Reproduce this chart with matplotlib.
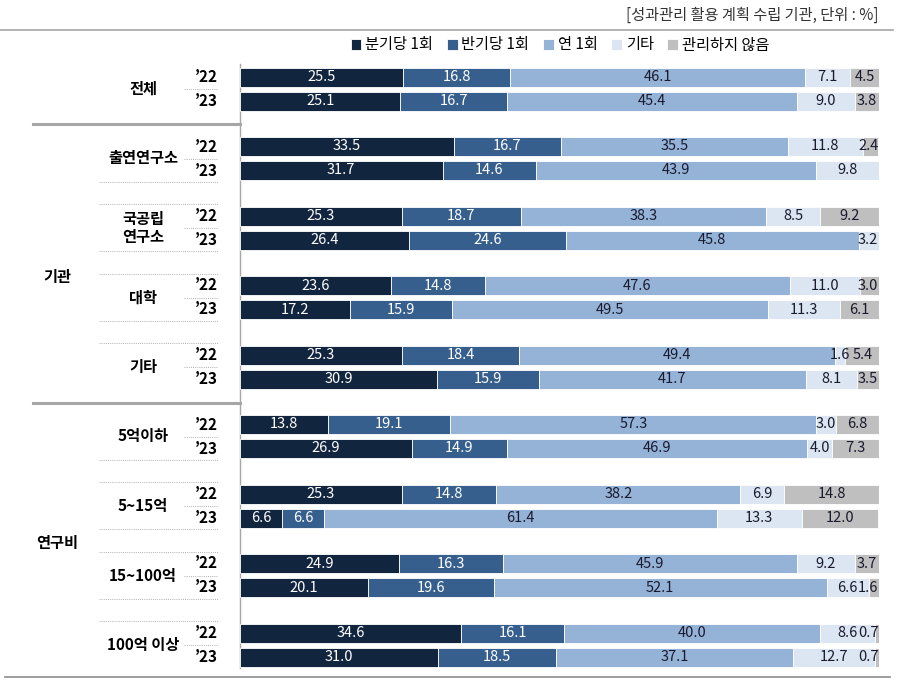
import matplotlib.pyplot as plt
import numpy as np

plt.rcParams['font.family'] = ['Noto Sans CJK KR', 'DejaVu Sans']

# data
rows = ["전체", "출연연구소", "국공립\n연구소", "대학", "기타", "5억이하", "5~15억", "15~100억", "100억 이상"]
series = ["분기당 1회", "반기당 1회", "연 1회", "기타", "관리하지 않음"]
colors = ["#12253f", "#375f8e", "#95b3d7", "#dce6f2", "#bfbfbf"]
text_colors = ["white", "white", "#1a1a2e", "#1a1a2e", "#1a1a2e"]

v22 = [
    [25.5, 33.5, 25.3, 23.6, 25.3, 13.8, 25.3, 24.9, 34.6],
    [16.8, 16.7, 18.7, 14.8, 18.4, 19.1, 14.8, 16.3, 16.1],
    [46.1, 35.5, 38.3, 47.6, 49.4, 57.3, 38.2, 45.9, 40.0],
    [7.1, 11.8, 8.5, 11.0, 1.6, 3.0, 6.9, 9.2, 8.6],
    [4.5, 2.4, 9.2, 3.0, 5.4, 6.8, 14.8, 3.7, 0.7],
]
v23 = [
    [25.1, 31.7, 26.4, 17.2, 30.9, 26.9, 6.6, 20.1, 31.0],
    [16.7, 14.6, 24.6, 15.9, 15.9, 14.9, 6.6, 19.6, 18.5],
    [45.4, 43.9, 45.8, 49.5, 41.7, 46.9, 61.4, 52.1, 37.1],
    [9.0, 9.8, 3.2, 11.3, 8.1, 4.0, 13.3, 6.6, 12.7],
    [3.8, 0, 0, 6.1, 3.5, 7.3, 12.0, 1.6, 0.7],
]

W, H = 909, 681
fig = plt.figure(figsize=(W / 100, H / 100), dpi=100)

# full-figure axes in pixel coords for labels and lines
deco = fig.add_axes([0, 0, 1, 1])
deco.set_xlim(0, W)
deco.set_ylim(H, 0)
deco.axis('off')

# bar axes: 0..100% from x=240 to x=879
ax = fig.add_axes([240 / W, 0, 639 / W, 1])
ax.set_xlim(0, 100)
ax.set_ylim(H, 0)
ax.axis('off')

n = len(rows)
y22 = 77 + 69.5 * np.arange(n)
y23 = y22 + 24
bh = 19

for vals, ys in [(v22, y22), (v23, y23)]:
    left = np.zeros(n)
    for k in range(len(series)):
        v = np.array(vals[k])
        ax.barh(ys, v, left=left, height=bh, color=colors[k], edgecolor='white',
                linewidth=0.6, label=series[k] if ys is y22 else None)
        for i in range(n):
            if v[i] <= 0:
                continue
            cx = min(left[i] + v[i] / 2, 98.3)
            ax.text(cx, ys[i], f"{v[i]:.1f}", ha='center', va='center',
                    fontsize=10.5, color=text_colors[k])
        left = left + v

# legend
fig.legend(loc='center', bbox_to_anchor=(560 / W, 1 - 45 / H), ncol=5, frameon=False,
           fontsize=11, handlelength=0.7, handleheight=0.7, handletextpad=0.25,
           columnspacing=0.9)

# note
deco.text(878, 15, "[성과관리 활용 계획 수립 기관, 단위 : %]", ha='right', va='center',
          fontsize=11, color='#333333')

# lines
deco.plot([0, 893], [30, 30], color='#a6a6a6', lw=1.2)
deco.plot([5, 890], [677, 677], color='#8c8c8c', lw=1.2)
deco.plot([240, 240], [64, 668], color='#a6a6a6', lw=1)
for yy in [124, 403]:
    deco.plot([33, 240], [yy, yy], color='#a6a6a6', lw=2.2)

# row labels
dot = (0, (1, 1.2))
for i in range(n):
    deco.text(218, y22[i], "’22", ha='right', va='center', fontsize=11, fontweight='bold')
    deco.text(218, y23[i], "’23", ha='right', va='center', fontsize=11, fontweight='bold')
    mid = (y22[i] + y23[i]) / 2
    deco.text(143, mid, rows[i], ha='center', va='center', fontsize=11,
              fontweight='bold', linespacing=1.2)
    deco.plot([184, 218], [mid, mid], color='#b0b0b0', lw=0.7, ls=dot)
    if i not in (0, 1, 5):
        deco.plot([99, 218], [y22[i] - 12, y22[i] - 12], color='#b0b0b0', lw=0.7, ls=dot)
    if i not in (0, 4, 8):
        deco.plot([99, 218], [y23[i] + 11, y23[i] + 11], color='#b0b0b0', lw=0.7, ls=dot)

deco.text(57, 277, "기관", ha='center', va='center', fontsize=11, fontweight='bold')
deco.text(57, 543, "연구비", ha='center', va='center', fontsize=11, fontweight='bold')

fig.savefig("out.png", dpi=100)
